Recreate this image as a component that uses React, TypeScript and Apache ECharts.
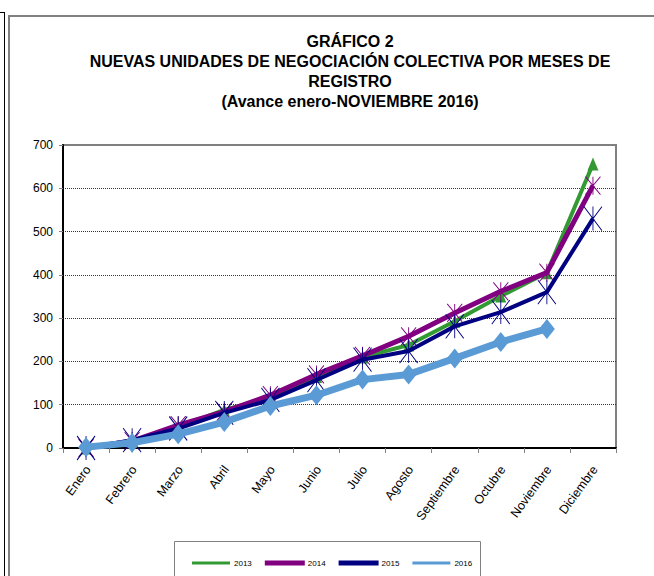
import React, { useEffect, useRef } from "react";
import * as echarts from "echarts";

const categories = ["Enero", "Febrero", "Marzo", "Abril", "Mayo", "Junio", "Julio", "Agosto", "Septiembre", "Octubre", "Noviembre", "Diciembre"];
const years = ["2013", "2014", "2015", "2016"];
const values2013 = [0, 15, 48, 88, 117, 165, 210, 238, 293, 351, 405, 656];
const values2014 = [0, 16, 53, 84, 122, 170, 213, 258, 312, 362, 405, 606];
const values2015 = [0, 18, 45, 81, 111, 157, 204, 224, 281, 314, 360, 530];
const values2016 = [2, 12, 32, 60, 97, 122, 158, 170, 207, 245, 275];
const titleLines = [
  "GRÁFICO 2",
  "NUEVAS UNIDADES DE NEGOCIACIÓN COLECTIVA POR MESES DE",
  "REGISTRO",
  "(Avance enero-NOVIEMBRE 2016)",
];

const FONT = '"Liberation Sans", Arial, sans-serif';
const colors = ["#339933", "#800080", "#000080", "#5B9BD5"];
const asterisk = "path://M0,0L10,10M10,0L0,10M5,0L5,10";

export default function App() {
  const ref = useRef<HTMLDivElement>(null);
  useEffect(() => {
    if (!ref.current) return;
    const chart = echarts.init(ref.current, undefined, { renderer: "svg" });
    const seriesData = [values2013, values2014, values2015, values2016];
    const lineWidths = [4, 5, 4, 7];
    const symbols = ["triangle", asterisk, asterisk, "diamond"];
    const symbolSizes: any[] = [[11, 13], [15, 18], [18, 24], [16, 20]];
    chart.setOption({
      animation: false,
      backgroundColor: "#ffffff",
      textStyle: { fontFamily: FONT },
      title: {
        text: titleLines.join("\n"),
        left: 350,
        textAlign: "center",
        top: 31,
        padding: 0,
        textStyle: { fontFamily: FONT, fontSize: 16, fontWeight: "bold", color: "#000", lineHeight: 20 },
      },
      grid: {
        left: 63,
        right: 38,
        top: 145,
        bottom: 128,
        show: true,
        borderColor: "#808080",
        borderWidth: 2,
        backgroundColor: "transparent",
      },
      legend: {
        left: 187,
        top: 554,
        icon: "rect",
        itemWidth: 38,
        itemHeight: 3,
        itemGap: 13,
        textStyle: { fontFamily: FONT, fontSize: 8, color: "#000", padding: [0, 0, 0, -1] },
        data: years.map((y, i) => ({ name: y, itemStyle: { color: colors[i] } })),
      },
      xAxis: {
        type: "category",
        data: categories,
        boundaryGap: true,
        axisLine: { lineStyle: { color: "#000", width: 2 } },
        axisTick: { show: true, length: 5, lineStyle: { color: "#808080" } },
        axisLabel: { rotate: 54, margin: 22, fontSize: 12.5, color: "#000", fontFamily: FONT, interval: 0, padding: [0, -3.5, 0, 0] },
      },
      yAxis: {
        type: "value",
        min: 0,
        max: 700,
        interval: 100,
        axisLine: { show: true, lineStyle: { color: "#000", width: 2 } },
        axisTick: { show: true, length: 4, lineStyle: { color: "#808080" } },
        axisLabel: { margin: 10, fontSize: 12, color: "#000", fontFamily: FONT },
        splitLine: { show: true, showMinLine: false, showMaxLine: false, lineStyle: { color: "#333", type: [1, 1], width: 1 } },
      },
      series: years.map((y, i) => ({
        name: y,
        type: "line",
        data: seriesData[i],
        symbol: symbols[i],
        symbolSize: symbolSizes[i],
        showSymbol: true,
        lineStyle: { color: colors[i], width: lineWidths[i] },
        itemStyle: { color: colors[i], borderColor: colors[i], borderWidth: i === 1 || i === 2 ? 1 : 0 },
        z: 2 + i,
      })),
      graphic: [
        { type: "line", shape: { x1: 0, y1: 12.5, x2: 4.5, y2: 12.5 }, style: { stroke: "#000", lineWidth: 1 } },
        { type: "line", shape: { x1: 4.5, y1: 12, x2: 4.5, y2: 580 }, style: { stroke: "#000", lineWidth: 1 } },
        { type: "rect", shape: { x: 9, y: 16, width: 700, height: 600 }, style: { fill: "none", stroke: "#808080", lineWidth: 2 } },
        { type: "rect", shape: { x: 174.5, y: 541.5, width: 306, height: 60 }, style: { fill: "none", stroke: "#808080", lineWidth: 1 } },
      ],
    });
    return () => chart.dispose();
  }, []);
  return <div ref={ref} style={{ position: "fixed", left: 0, top: 0, width: 654, height: 576 }} />;
}
